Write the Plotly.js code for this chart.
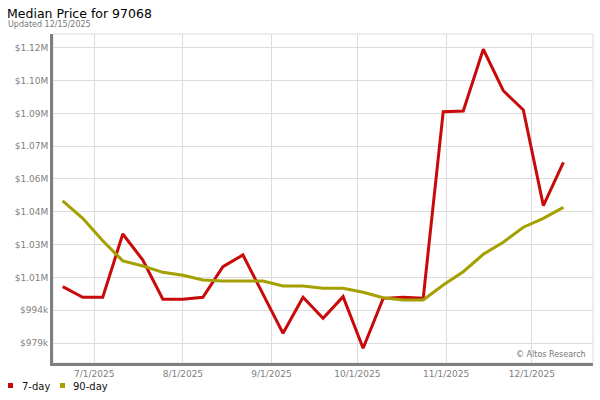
<!DOCTYPE html>
<html>
<head>
<meta charset="utf-8">
<script src="https://cdn.plot.ly/plotly-3.0.1.min.js"></script>
<style>html,body{margin:0;padding:0;background:#fff;}#chart{width:600px;height:400px;}</style>
</head>
<body>
<div id="chart"></div>
<script>
// ---- data ----
const dates = ['2025-06-20','2025-06-27','2025-07-04','2025-07-11','2025-07-18','2025-07-25',
  '2025-08-01','2025-08-08','2025-08-15','2025-08-22','2025-08-29','2025-09-05','2025-09-12',
  '2025-09-19','2025-09-26','2025-10-03','2025-10-10','2025-10-17','2025-10-24','2025-10-31',
  '2025-11-07','2025-11-14','2025-11-21','2025-11-28','2025-12-05','2025-12-12'];
const sevenDay = [1005500,1000500,1000500,1030400,1018100,999600,999600,1000500,1015000,1020500,
  1002000,983500,1000500,990600,1000800,976400,1000000,1000500,1000000,1088200,1088500,1117700,
  1098100,1089000,1043800,1064300];
const ninetyDay = [1046100,1037800,1027200,1017700,1015300,1012300,1010900,1008700,1008200,1008200,
  1008200,1005800,1005800,1004800,1004800,1002900,1000300,999200,999200,1006300,1012600,1020800,
  1026500,1033600,1037800,1043000];
const seriesNames = ['7-day','90-day'];
const seriesColors = ['#c80a0a','#a3a000'];
const xTickVals = ['2025-07-01','2025-08-01','2025-09-01','2025-10-01','2025-11-01','2025-12-01'];
const xTickText = ['7/1/2025','8/1/2025','9/1/2025','10/1/2025','11/1/2025','12/1/2025'];
const yTickVals = [978900,994400,1009900,1025400,1040900,1056400,1071900,1087400,1102900,1118400];
const yTickText = ['$979k','$994k','$1.01M','$1.03M','$1.04M','$1.06M','$1.07M','$1.09M','$1.10M','$1.12M'];
const titleText = 'Median Price for 97068';
const subtitleText = 'Updated 12/15/2025';
const creditText = '\u00A9 Altos Research';

// ---- layout helpers (pixel -> paper) ----
const M = {l:53, r:7, t:34, b:37};
const W = 600, H = 400;
const pw = W - M.l - M.r, ph = H - M.t - M.b;
const px = x => (x - M.l) / pw;
const py = y => (H - M.b - y) / ph;

const FONT = 'DejaVu Sans, Verdana, sans-serif';

const traces = [
  {x: dates, y: sevenDay, name: seriesNames[0], type: 'scatter', mode: 'lines',
   line: {color: seriesColors[0], width: 3}, showlegend: false, hoverinfo: 'skip'},
  {x: dates, y: ninetyDay, name: seriesNames[1], type: 'scatter', mode: 'lines',
   line: {color: seriesColors[1], width: 3}, showlegend: false, hoverinfo: 'skip'}
];

const axisCommon = {
  showline: true, linecolor: '#808080', linewidth: 3,
  showgrid: true, gridcolor: '#dcdcdc', gridwidth: 1,
  zeroline: false, ticks: '', fixedrange: true,
  tickfont: {family: FONT, size: 9, color: '#808080'}
};

const layout = {
  width: W, height: H,
  margin: M,
  paper_bgcolor: '#ffffff', plot_bgcolor: '#ffffff',
  font: {family: FONT},
  showlegend: false,
  title: {text: titleText, font: {family: FONT, size: 12.5, color: '#000'},
          xref: 'container', yref: 'container', x: 7/W, xanchor: 'left',
          y: 1 - 13.5/H, yanchor: 'middle'},
  xaxis: Object.assign({}, axisCommon, {
    type: 'date', range: ['2025-06-16 14:38', '2025-12-22 08:24'],
    tickmode: 'array', tickvals: xTickVals, ticktext: xTickText
  }),
  yaxis: Object.assign({}, axisCommon, {
    range: [969450, 1124900],
    tickmode: 'array', tickvals: yTickVals, ticktext: yTickText
  }),
  shapes: [
    {type: 'rect', xref: 'paper', yref: 'paper', x0: 0, x1: 1, y0: 0, y1: 1,
     line: {color: '#dcdcdc', width: 1}, layer: 'below'},
    {type: 'rect', xref: 'paper', yref: 'paper', x0: px(8), x1: px(13), y0: py(388), y1: py(383),
     fillcolor: seriesColors[0], line: {width: 0}},
    {type: 'rect', xref: 'paper', yref: 'paper', x0: px(60), x1: px(65), y0: py(388), y1: py(383),
     fillcolor: seriesColors[1], line: {width: 0}}
  ],
  annotations: [
    {text: subtitleText, xref: 'paper', yref: 'paper', x: px(6), y: py(24.5),
     xanchor: 'left', yanchor: 'middle', showarrow: false,
     font: {family: FONT, size: 8, color: '#777'}},
    {text: creditText, xref: 'paper', yref: 'paper', x: px(588), y: py(354),
     xanchor: 'right', yanchor: 'middle', showarrow: false,
     font: {family: FONT, size: 8, color: '#777'}},
    {text: seriesNames[0], xref: 'paper', yref: 'paper', x: px(20), y: py(386),
     xanchor: 'left', yanchor: 'middle', showarrow: false,
     font: {family: FONT, size: 10, color: '#111'}},
    {text: seriesNames[1], xref: 'paper', yref: 'paper', x: px(71), y: py(386),
     xanchor: 'left', yanchor: 'middle', showarrow: false,
     font: {family: FONT, size: 10, color: '#111'}}
  ]
};

Plotly.newPlot('chart', traces, layout, {staticPlot: true, displayModeBar: false});
</script>
</body>
</html>
